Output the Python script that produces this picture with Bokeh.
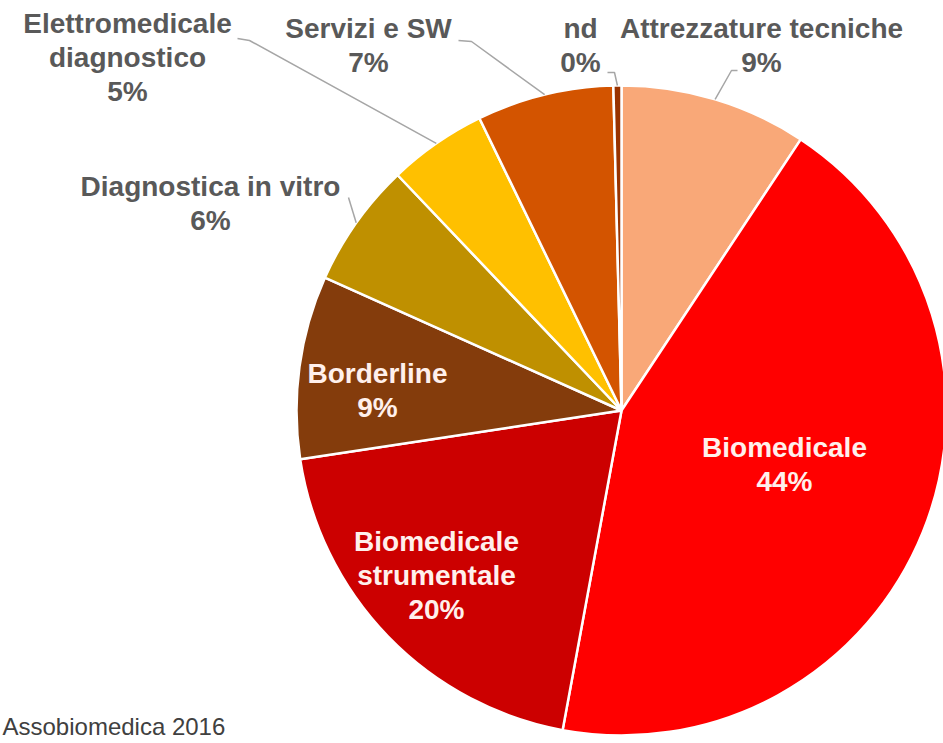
import math
import numpy as np
from bokeh.plotting import figure
from bokeh.models import Range1d, ColumnDataSource
from bokeh.core.properties import value
from bokeh.embed import file_html
from bokeh.resources import INLINE

# ---- data ----
categories = ["Attrezzature tecniche", "Biomedicale", "Biomedicale strumentale",
              "Borderline", "Diagnostica in vitro", "Elettromedicale diagnostico",
              "Servizi e SW", "nd"]
shares = [9.3, 43.6, 19.7, 9.1, 6.2, 4.9, 6.8, 0.4]
pct_labels = ["9%", "44%", "20%", "9%", "6%", "5%", "7%", "0%"]
source_note = "Assobiomedica 2016"

# ---- styles / layout ----
colors = ["#F9A878", "#FF0000", "#CC0000", "#843C0C", "#BF9000", "#FFC000", "#D35400", "#993300"]
display_names = ["Attrezzature tecniche", "Biomedicale", "Biomedicale\nstrumentale",
                 "Borderline", "Diagnostica in vitro", "Elettromedicale\ndiagnostico",
                 "Servizi e SW", "nd"]
inside = [False, True, True, True, False, False, False, False]
# label block centres in page pixels (x, y from top)
label_pos = [(761, 45), (784, 464), (436, 575), (377, 390), (210, 203), (127, 57), (368, 45), (580, 45)]
# leader line start points (page pixels), then to the arc
leader_pts = {0: [(737, 70), (731, 70)], 4: [(348, 197)], 5: [(237, 38), (249, 40)],
              6: [(458, 40), (471, 41)], 7: [(607, 72), (614, 72)]}

W, H = 943, 743
def px(x): return x
def py(y): return H - y

cx, cy, R = px(621), py(410), 325

p = figure(width=W, height=H, output_backend="svg", toolbar_location=None,
           x_range=Range1d(0, W), y_range=Range1d(0, H), min_border=0)
p.axis.visible = False
p.grid.visible = False
p.outline_line_color = None
p.background_fill_color = "white"

frac = np.array(shares) / sum(shares)
cum_end = np.cumsum(frac)
cum_start = cum_end - frac
start = math.pi / 2 - 2 * math.pi * cum_end
end = math.pi / 2 - 2 * math.pi * cum_start
mid = (start + end) / 2

src = ColumnDataSource(dict(start=start, end=end, color=colors, cat=categories))
p.wedge(x=cx, y=cy, radius=R, start_angle="start", end_angle="end", color="color",
        line_color="white", line_width=2.5, source=src)

# leader lines
for i, pts in leader_pts.items():
    xs = [px(a) for a, b in pts] + [cx + R * math.cos(mid[i])]
    ys = [py(b) for a, b in pts] + [cy + R * math.sin(mid[i])]
    p.line(xs, ys, line_color="#A6A6A6", line_width=1.5)

# labels
for i in range(len(categories)):
    txt = display_names[i] + "\n" + pct_labels[i]
    col = "#FFF0EC" if inside[i] else "#595959"
    x, y = label_pos[i]
    p.text(x=[px(x)], y=[py(y)], text=[txt], text_align="center", text_baseline="middle",
           text_font=value("Liberation Sans"), text_font_style="bold",
           text_font_size="28px", text_color=col, text_line_height=1.1)

p.text(x=[2], y=[4], text=[source_note], text_align="left", text_baseline="bottom",
       text_font=value("Liberation Sans"), text_font_size="24px", text_color="#404040")

open("out.html", "w").write(file_html(p, INLINE))
